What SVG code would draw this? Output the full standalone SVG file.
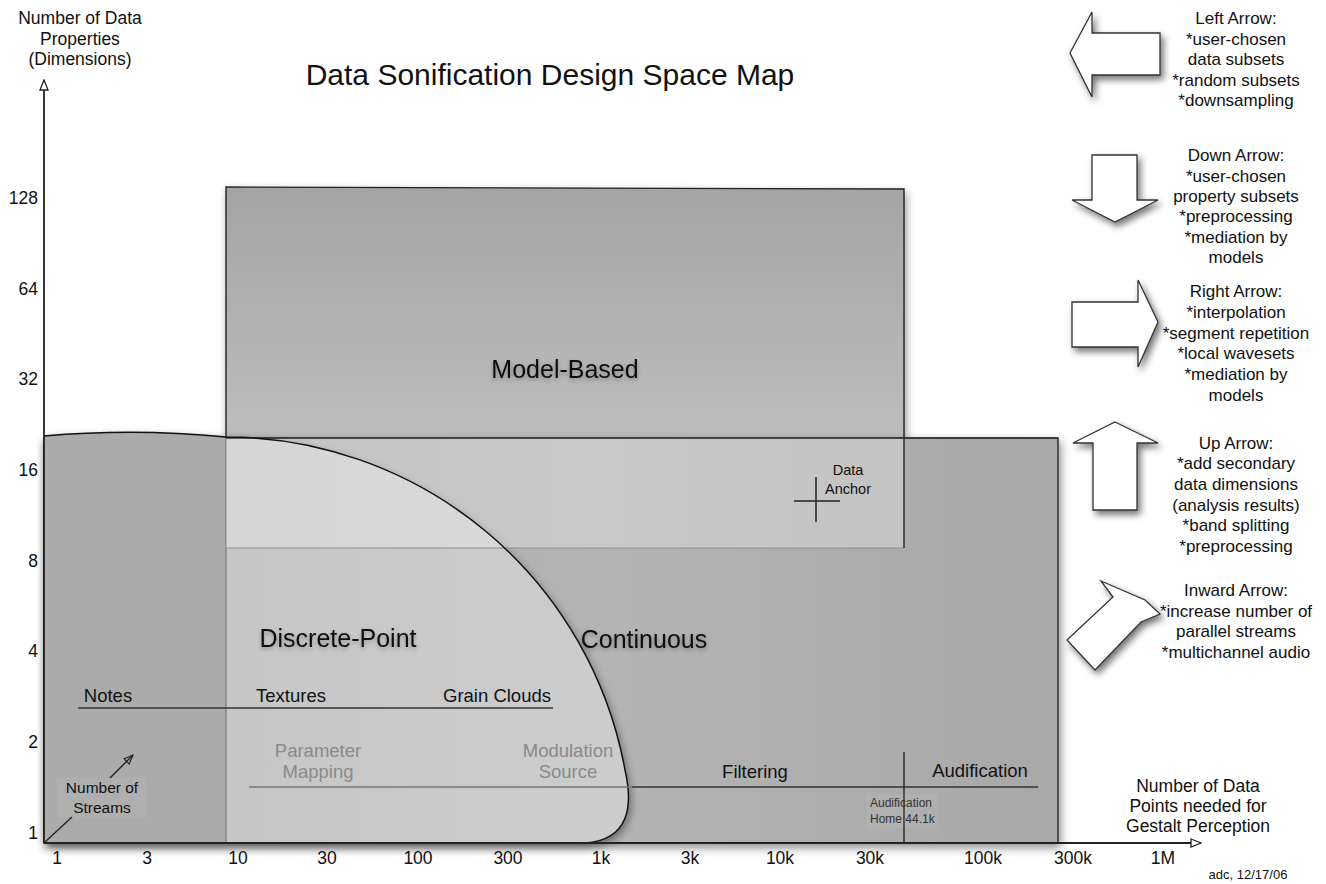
<svg xmlns="http://www.w3.org/2000/svg" width="1326" height="884" viewBox="0 0 1326 884">
<defs>
<style>
text{font-family:"Liberation Sans",Arial,Helvetica,sans-serif;fill:#111}
.tk{font-size:17.5px}
.tkr{font-size:17.5px;text-anchor:end}
.mid{text-anchor:middle}
.lbl{font-size:18.5px;text-anchor:middle}
.gry{fill:#8a8a8a}
.big{font-size:25px;text-anchor:middle;filter:url(#tsh)}
.side{font-size:17px;text-anchor:middle}
.arr{fill:#fff;stroke:#333;stroke-width:1.3;stroke-linejoin:miter;filter:url(#ash)}
.ln{stroke:#222;stroke-width:1.5;fill:none}
</style>
<filter id="sh" x="-10%" y="-10%" width="125%" height="125%">
<feDropShadow dx="2" dy="4" stdDeviation="5" flood-color="#000" flood-opacity="0.45"/>
</filter>
<filter id="ash" x="-20%" y="-20%" width="150%" height="150%">
<feDropShadow dx="3" dy="4" stdDeviation="3.5" flood-color="#000" flood-opacity="0.55"/>
</filter>
<filter id="tsh" x="-10%" y="-30%" width="120%" height="170%">
<feDropShadow dx="0" dy="2" stdDeviation="2" flood-color="#000" flood-opacity="0.3"/>
</filter>
<linearGradient id="gModel" x1="0" y1="187" x2="0" y2="548" gradientUnits="userSpaceOnUse">
<stop offset="0" stop-color="#a4a4a4"/>
<stop offset="0.7" stop-color="#bdbdbd"/>
<stop offset="1" stop-color="#c0c0c0"/>
</linearGradient>
<linearGradient id="gCont" x1="44" y1="0" x2="1058" y2="0" gradientUnits="userSpaceOnUse">
<stop offset="0" stop-color="#acacac"/>
<stop offset="0.55" stop-color="#b4b4b4"/>
<stop offset="1" stop-color="#a8a8a8"/>
</linearGradient>
<linearGradient id="gDisc" x1="226" y1="0" x2="632" y2="0" gradientUnits="userSpaceOnUse">
<stop offset="0" stop-color="#c6c6c6"/>
<stop offset="1" stop-color="#cdcdcd"/>
</linearGradient>
<marker id="open" viewBox="0 0 12 10" refX="11" refY="5" markerWidth="12" markerHeight="10" markerUnits="userSpaceOnUse" orient="auto">
<path d="M1,1 L11,5 L1,9 Z" fill="#fff" stroke="#222" stroke-width="1.3"/>
</marker>
<marker id="openS" viewBox="0 0 12 10" refX="11" refY="5" markerWidth="11" markerHeight="9" markerUnits="userSpaceOnUse" orient="auto">
<path d="M1,1 L11,5 L1,9 Z" fill="none" stroke="#222" stroke-width="1.3"/>
</marker>
</defs>
<rect width="1326" height="884" fill="#fff"/>

<text x="550" y="85" style="font-size:30px;text-anchor:middle">Data Sonification Design Space Map</text>

<g id="model-based">
<path d="M226,187 L904,189 L904,548 L226,548 Z" fill="url(#gModel)" filter="url(#sh)"/>
</g>

<g id="continuous">
<rect x="44" y="438" width="1014" height="405" fill="url(#gCont)" stroke="#333" stroke-width="1.5" filter="url(#sh)"/>
</g>

<g id="discrete-point">
<path d="M44,843 L44,436 Q135,428 226,437 A406,406 0 0 1 625,770 C633,805 630,840 585,843 Z" fill="url(#gDisc)" filter="url(#sh)"/>
<path d="M44,843 L44,436 Q135,428 226,437 L226,843 Z" fill="#ababab"/>
<line x1="226" y1="437" x2="226" y2="843" stroke="#7a7a7a" stroke-width="1.2"/>
</g>

<rect x="226" y="438" width="678" height="110" fill="#fff" opacity="0.28"/>
<line x1="226" y1="548" x2="904" y2="548" stroke="#8c8c8c" stroke-width="1"/>
<path d="M226,438 L226,187 L904,189 L904,548" fill="none" stroke="#222" stroke-width="1.4"/>
<line x1="226" y1="438" x2="1058" y2="438" stroke="#333" stroke-width="1.4"/>
<path d="M44,436 Q135,428 226,437 A406,406 0 0 1 625,770 C633,805 630,840 585,843" fill="none" stroke="#111" stroke-width="1.5"/>

<text class="big" x="565" y="378">Model-Based</text>
<text class="big" x="338" y="647">Discrete-Point</text>
<text class="big" x="644" y="648">Continuous</text>

<g id="data-anchor">
<line x1="794" y1="501" x2="840" y2="501" class="ln"/>
<line x1="816" y1="477" x2="816" y2="522" class="ln"/>
<text x="848" y="475" class="mid" style="font-size:14.5px">Data</text>
<text x="848" y="494" class="mid" style="font-size:14.5px">Anchor</text>
</g>

<g id="textures-row">
<line x1="78" y1="708" x2="553" y2="708" stroke="#333" stroke-width="1.5"/>
<text class="lbl" x="108" y="702">Notes</text>
<text class="lbl" x="291" y="702">Textures</text>
<text class="lbl" x="497" y="702">Grain Clouds</text>
</g>

<g id="mapping-row">
<line x1="249" y1="787" x2="632" y2="787" stroke="#777" stroke-width="1.3"/>
<line x1="632" y1="787" x2="1038" y2="787" stroke="#333" stroke-width="1.5"/>
<line x1="904" y1="752" x2="904" y2="843" stroke="#222" stroke-width="1.4"/>
<text class="lbl gry" x="318" y="757">Parameter</text>
<text class="lbl gry" x="318" y="778">Mapping</text>
<text class="lbl gry" x="568" y="757">Modulation</text>
<text class="lbl gry" x="568" y="778">Source</text>
<text class="lbl" x="755" y="778">Filtering</text>
<text class="lbl" x="980" y="777">Audification</text>
<rect x="866" y="794" width="72" height="34" fill="#fff" opacity="0.05"/>
<text x="870" y="807" style="font-size:12px;fill:#333">Audification</text>
<text x="870" y="823" style="font-size:12px;fill:#333">Home 44.1k</text>
</g>

<g id="streams">
<rect x="57" y="778" width="90" height="40" fill="#fff" opacity="0.05"/>
<text x="102" y="793" class="mid" style="font-size:15.5px">Number of</text>
<text x="102" y="813" class="mid" style="font-size:15.5px">Streams</text>
</g>

<g id="connectors">
<line x1="44" y1="843" x2="44" y2="80" stroke="#222" stroke-width="1.8" marker-end="url(#open)"/>
<line x1="44" y1="843" x2="1201" y2="843" stroke="#222" stroke-width="1.8" marker-end="url(#open)"/>
<line x1="110" y1="778" x2="133" y2="755" stroke="#222" stroke-width="1.4" marker-end="url(#openS)"/>
<line x1="45" y1="842" x2="72" y2="817" stroke="#222" stroke-width="1.3"/>
</g>

<g id="y-axis-labels">
<text x="80" y="24" class="mid" style="font-size:17.5px">Number of Data</text>
<text x="80" y="45" class="mid" style="font-size:17.5px">Properties</text>
<text x="80" y="65" class="mid" style="font-size:17.5px">(Dimensions)</text>
<text class="tkr" x="38" y="204">128</text>
<text class="tkr" x="38" y="295">64</text>
<text class="tkr" x="38" y="385">32</text>
<text class="tkr" x="38" y="476">16</text>
<text class="tkr" x="38" y="567">8</text>
<text class="tkr" x="38" y="657">4</text>
<text class="tkr" x="38" y="748">2</text>
<text class="tkr" x="38" y="839">1</text>
</g>

<g id="x-axis-labels">
<text class="tk mid" x="57" y="864">1</text>
<text class="tk mid" x="147" y="864">3</text>
<text class="tk mid" x="238" y="864">10</text>
<text class="tk mid" x="327" y="864">30</text>
<text class="tk mid" x="418" y="864">100</text>
<text class="tk mid" x="508" y="864">300</text>
<text class="tk mid" x="601" y="864">1k</text>
<text class="tk mid" x="690" y="864">3k</text>
<text class="tk mid" x="780" y="864">10k</text>
<text class="tk mid" x="870" y="864">30k</text>
<text class="tk mid" x="983" y="864">100k</text>
<text class="tk mid" x="1073" y="864">300k</text>
<text class="tk mid" x="1163" y="864">1M</text>
<text x="1198" y="792" class="mid" style="font-size:17.5px">Number of Data</text>
<text x="1198" y="812" class="mid" style="font-size:17.5px">Points needed for</text>
<text x="1198" y="832" class="mid" style="font-size:17.5px">Gestalt Perception</text>
<text x="1248" y="879" class="mid" style="font-size:13px">adc, 12/17/06</text>
</g>

<g id="left-arrow">
<polygon class="arr" points="1070,53 1092,12 1092,33 1160,33 1160,75 1092,75 1092,97"/>
<text class="side" x="1236" y="24">Left Arrow:</text>
<text class="side" x="1236" y="45">*user-chosen</text>
<text class="side" x="1236" y="65">data subsets</text>
<text class="side" x="1236" y="86">*random subsets</text>
<text class="side" x="1236" y="106">*downsampling</text>
</g>

<g id="down-arrow">
<polygon class="arr" points="1092,155 1137,155 1137,200 1158,200 1115,222 1072,200 1092,200"/>
<text class="side" x="1236" y="161">Down Arrow:</text>
<text class="side" x="1236" y="182">*user-chosen</text>
<text class="side" x="1236" y="202">property subsets</text>
<text class="side" x="1236" y="222">*preprocessing</text>
<text class="side" x="1236" y="243">*mediation by</text>
<text class="side" x="1236" y="263">models</text>
</g>

<g id="right-arrow">
<polygon class="arr" points="1072,302 1138,302 1138,280 1158,322 1138,367 1138,347 1072,347"/>
<text class="side" x="1236" y="297">Right Arrow:</text>
<text class="side" x="1236" y="318">*interpolation</text>
<text class="side" x="1236" y="339">*segment repetition</text>
<text class="side" x="1236" y="359">*local wavesets</text>
<text class="side" x="1236" y="380">*mediation by</text>
<text class="side" x="1236" y="401">models</text>
</g>

<g id="up-arrow">
<polygon class="arr" points="1115,422 1158,443 1137,443 1137,510 1093,510 1093,443 1073,443"/>
<text class="side" x="1236" y="449">Up Arrow:</text>
<text class="side" x="1236" y="469">*add secondary</text>
<text class="side" x="1236" y="490">data dimensions</text>
<text class="side" x="1236" y="511">(analysis results)</text>
<text class="side" x="1236" y="531">*band splitting</text>
<text class="side" x="1236" y="552">*preprocessing</text>
</g>

<g id="inward-arrow">
<polygon class="arr" points="1101,581 1145,600 1160,614 1141,622 1095,670 1067,640 1113,597"/>
<text class="side" x="1236" y="596">Inward Arrow:</text>
<text class="side" x="1236" y="617">*increase number of</text>
<text class="side" x="1236" y="637">parallel streams</text>
<text class="side" x="1236" y="658">*multichannel audio</text>
</g>
</svg>
